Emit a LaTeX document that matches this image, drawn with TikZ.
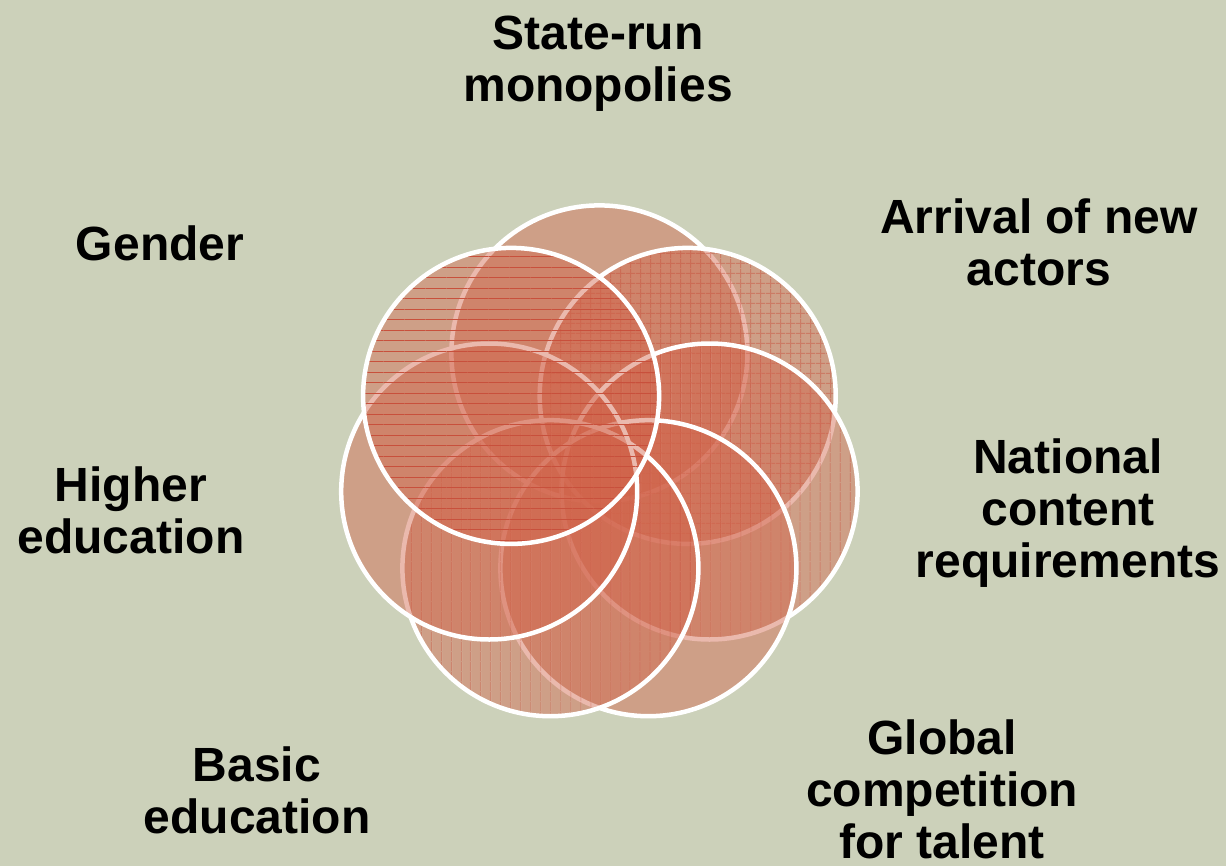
\documentclass[tikz,border=0pt]{standalone}
\usepackage{fontspec}
\setmainfont{Liberation Sans}
\usetikzlibrary{patterns.meta}
\definecolor{bg}{RGB}{204,209,186}
\definecolor{terra}{RGB}{210,100,75}
\definecolor{hatch}{RGB}{200,80,60}
\begin{document}
\begin{tikzpicture}[x=1bp,y=-1bp,
  petal/.style={circle,minimum size=296bp,inner sep=0pt,outer sep=0pt,
    preaction={fill=terra,fill opacity=0.45},draw=white,line width=4.5bp},
  hlines/.style={pattern={Lines[angle=0,distance=10.5bp,line width=1bp]},pattern color=hatch,fill opacity=0.5},
  vlines/.style={pattern={Lines[angle=90,distance=10bp,line width=1bp]},pattern color=hatch,fill opacity=0.4},
  gridlines/.style={pattern={Hatch[angle=0,distance=9.5bp,line width=1bp]},pattern color=hatch,fill opacity=0.45},
  lbl/.style={font=\fontsize{48bp}{52bp}\selectfont\bfseries,align=center,inner sep=0pt,anchor=base}]
\fill[bg] (0,0) rectangle (1226,866);
\useasboundingbox (0,0) rectangle (1226,866);
% circles, drawn in stacking order
\node[petal] (ctop) at (599.4,353.4) {};
\node[petal,gridlines] (cur) at (687.7,395.9) {};
\node[petal,vlines] (cr) at (709.6,491.5) {};
\node[petal] (clr) at (648.4,568.2) {};
\node[petal,vlines] (cll) at (550.4,568.2) {};
\node[petal] (cl) at (489.2,491.5) {};
\node[petal,hlines] (cul) at (511.1,395.9) {};
% labels (anchor = baseline of last line)
\node[lbl] (state) at (598,101) {State-run\\monopolies};
\node[lbl] (gender) at (160,260) {Gender};
\node[lbl] (arrival) at (1039,285) {Arrival of new\\actors};
\node[lbl] (national) at (1068,577) {National\\content\\requirements};
\node[lbl] (higher) at (131,553) {Higher\\education};
\node[lbl] (basic) at (257,833) {Basic\\education};
\node[lbl] (global) at (942,858) {Global\\competition\\for talent};
\end{tikzpicture}
\end{document}
